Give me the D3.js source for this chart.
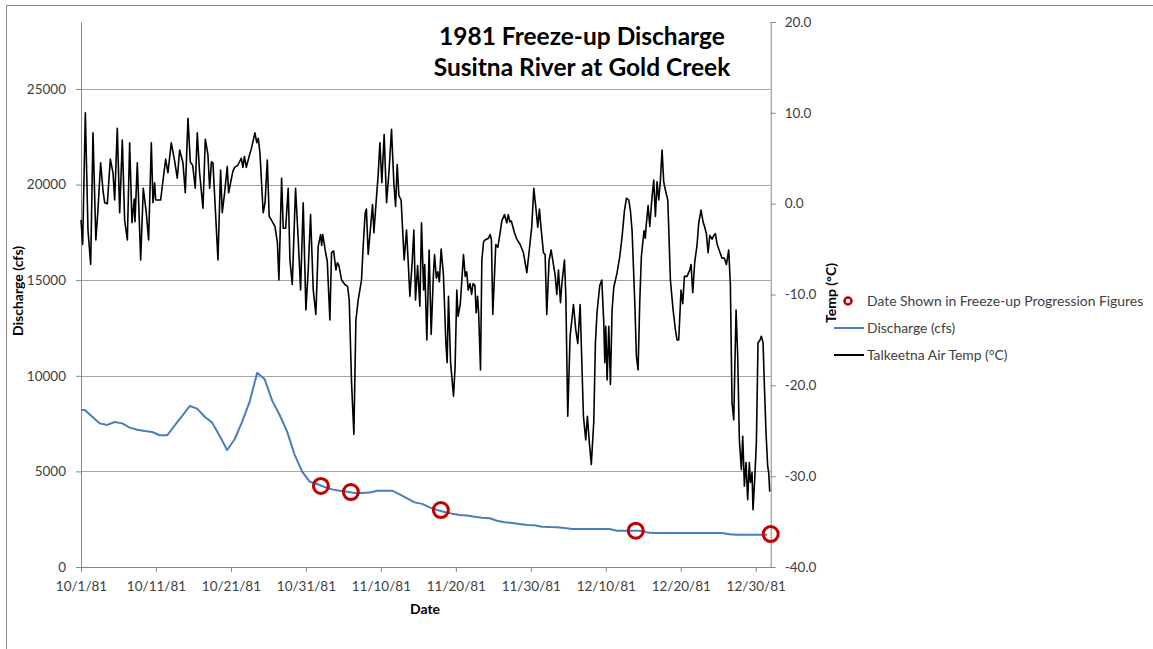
<!DOCTYPE html>
<html>
<head>
<meta charset="utf-8">
<script src="https://cdn.jsdelivr.net/npm/d3@7"></script>
<style>
  body { margin: 0; background: #fff; }
  svg { display: block; font-family: Lato, 'Open Sans', sans-serif; }
</style>
</head>
<body>
<svg id="chart" width="1153" height="649"></svg>
<script>
// discharge (cfs), one value per day, stamped at noon, starting 10/1/81
const dischargeStart = '1981-10-01';
const discharge = [
  8210, 7860, 7510, 7430, 7580, 7510, 7290, 7180, 7110, 7060,
  6890, 6890, 7410, 7900, 8420, 8280, 7860, 7550, 6850, 6120,
  6680, 7600, 8650, 10160, 9820, 8700, 7950, 7080, 5860, 4990,
  4460, 4340, 4180, 4060, 3990, 3940, 3870, 3870, 3890, 3990,
  3990, 3990, 3800, 3590, 3380, 3300, 3120, 2980, 2880, 2790,
  2720, 2690, 2630, 2580, 2550, 2420, 2340, 2300, 2250, 2200,
  2180, 2110, 2090, 2080, 2040, 1990, 1990, 1990, 1990, 1990,
  1990, 1900, 1900, 1900, 1900, 1810, 1780, 1780, 1780, 1780,
  1780, 1780, 1780, 1780, 1780, 1780, 1710, 1690, 1690, 1690,
  1690, 1690
];

// dates picked out for the freeze-up progression figures
const markerDates = ['1981-11-02', '1981-11-06', '1981-11-18', '1981-12-14', '1982-01-01'];
const markerValues = [4240, 3920, 2980, 1900, 1725];

// Talkeetna air temp: time in days after 10/1/81 00:00, value in °C
const tempDays = [
  0.00, 0.22, 0.58, 0.93, 1.29, 1.60, 1.98, 2.24, 2.62, 2.93,
  3.16, 3.51, 3.91, 4.27, 4.49, 4.84, 5.16, 5.51, 5.82, 6.18,
  6.49, 6.80, 7.10, 7.20, 7.51, 7.96, 8.31, 8.71, 9.02, 9.38,
  9.60, 9.82, 9.96, 10.62, 11.29, 11.60, 12.04, 12.49, 12.84, 13.16,
  13.60, 13.91, 14.27, 14.58, 14.90, 15.24, 15.51, 15.82, 16.27, 16.58,
  16.93, 17.16, 17.40, 17.60, 17.85, 18.27, 18.62, 18.84, 19.16, 19.51,
  19.69, 20.27, 20.49, 20.90, 21.38, 21.60, 21.80, 22.05, 22.49, 22.71,
  23.20, 23.45, 23.65, 23.87, 24.30, 24.55, 24.85, 25.10, 25.40, 25.87,
  26.20, 26.40, 26.76, 26.98, 27.30, 27.64, 27.87, 28.18, 28.62, 28.98,
  29.29, 29.64, 30.00, 30.31, 30.62, 30.98, 31.33, 31.64, 31.96, 32.10,
  32.25, 32.67, 32.85, 33.20, 33.42, 33.70, 34.00, 34.20, 34.40, 34.76,
  35.20, 35.56, 35.78, 36.09, 36.40, 36.67, 36.98, 37.42, 37.64, 37.91,
  38.07, 38.31, 38.50, 38.89, 39.07, 39.30, 39.64, 39.87, 40.13, 40.44,
  40.76, 41.10, 41.42, 41.73, 41.96, 42.18, 42.40, 42.70, 43.11, 43.42,
  43.65, 43.87, 44.18, 44.40, 44.62, 44.90, 45.20, 45.42, 45.70, 45.85,
  46.13, 46.44, 46.71, 47.00, 47.16, 47.40, 47.60, 47.80, 48.04, 48.35,
  48.67, 48.84, 49.02, 49.30, 49.69, 49.90, 50.13, 50.30, 50.60, 51.02,
  51.25, 51.45, 51.65, 51.90, 52.10, 52.30, 52.55, 52.71, 52.90, 53.05,
  53.29, 53.47, 53.70, 53.90, 54.35, 54.58, 54.75, 54.93, 55.33, 55.60,
  55.91, 56.13, 56.49, 56.80, 57.00, 57.20, 57.40, 57.82, 58.13, 58.58,
  59.02, 59.47, 59.80, 60.13, 60.40, 60.67, 60.93, 61.15, 61.38, 61.69,
  61.91, 62.13, 62.44, 62.71, 63.02, 63.24, 63.47, 63.69, 63.96, 64.13,
  64.49, 64.67, 64.93, 65.24, 65.69, 66.00, 66.27, 66.58, 67.02, 67.33,
  67.55, 67.82, 68.07, 68.40, 68.62, 68.84, 69.20, 69.47, 69.73, 69.87,
  70.00, 70.18, 70.40, 70.62, 70.84, 71.07, 71.51, 71.87, 72.18, 72.49,
  72.76, 73.07, 73.29, 73.51, 73.87, 74.09, 74.31, 74.53, 74.75, 75.10,
  75.27, 75.38, 75.65, 75.87, 76.18, 76.40, 76.62, 76.84, 77.07, 77.29,
  77.51, 77.73, 77.95, 78.27, 78.40, 78.62, 78.98, 79.29, 79.51, 79.73,
  80.04, 80.27, 80.49, 80.84, 81.20, 81.38, 81.60, 81.87, 82.18, 82.40,
  82.71, 82.98, 83.20, 83.42, 83.65, 83.87, 84.18, 84.40, 84.62, 84.84,
  85.07, 85.51, 85.82, 86.09, 86.40, 86.62, 86.84, 87.07, 87.38, 87.60,
  87.82, 88.09, 88.27, 88.49, 88.71, 88.93, 89.15, 89.29, 89.51, 89.64,
  89.87, 90.09, 90.31, 90.53, 90.75, 90.98, 91.16, 91.38, 91.60, 91.73,
  91.87
];
const tempValues = [
  -1.8, -4.5, 10.0, -2.9, -6.7, 7.8, -4.0, -1.0, 4.5, 1.5,
  0.1, 0.0, 4.9, 3.4, 0.4, 8.3, -1.0, 7.0, -1.8, -4.0,
  6.7, -2.1, 0.5, -2.0, 4.5, -6.2, 1.7, -1.0, -4.0, 6.7,
  0.1, 2.3, 0.4, 0.4, 4.9, 3.4, 6.7, 4.7, 2.8, 5.9,
  4.5, 1.2, 9.4, 4.6, 4.2, 1.7, 7.8, 3.4, -0.5, 7.1,
  5.4, 1.7, 4.6, 4.5, 0.5, -6.2, 3.7, -1.0, 1.2, 4.1,
  1.2, 3.6, 4.0, 4.2, 5.0, 4.0, 5.2, 4.0, 5.4, 6.0,
  7.8, 6.7, 7.2, 5.6, -1.0, 0.1, 4.8, -1.4, -1.8, -2.5,
  -4.3, -8.4, 2.8, -2.7, -2.7, 1.7, -6.2, -8.9, 1.7, -4.0,
  -9.5, 0.1, -11.7, -7.3, -1.2, -9.5, -12.2, -4.7, -3.4, -4.6,
  -3.4, -5.6, -6.3, -12.8, -5.4, -5.2, -7.3, -6.5, -6.8, -8.4,
  -8.9, -9.1, -10.6, -19.7, -25.4, -12.8, -10.6, -8.4, -4.7, -1.0,
  -0.6, -5.6, -3.8, -0.1, -3.2, -0.6, 3.2, 6.7, 2.3, 7.6,
  0.1, 3.7, 8.2, 2.3, -0.3, 4.3, 0.9, 0.4, -6.2, -2.9,
  -6.5, -10.2, -6.4, -2.9, -10.6, -6.8, -11.3, -2.1, -9.5, -6.7,
  -15.0, -5.1, -14.4, -8.0, -5.6, -8.2, -7.5, -8.6, -5.0, -7.9,
  -15.3, -17.5, -10.2, -17.5, -21.2, -18.0, -9.5, -12.4, -11.0, -5.6,
  -8.0, -7.5, -9.5, -8.8, -10.0, -8.8, -9.0, -12.0, -10.2, -12.2,
  -18.3, -6.2, -4.2, -4.0, -3.8, -3.4, -4.0, -12.2, -4.5, -4.8,
  -3.2, -1.9, -1.2, -2.1, -1.2, -2.0, -1.9, -3.2, -3.9, -4.5,
  -5.4, -7.6, -5.1, -2.5, 1.7, -0.4, -2.6, -0.6, -2.8, -5.4,
  -5.6, -12.2, -6.2, -5.1, -6.7, -7.8, -10.0, -7.3, -10.9, -8.9,
  -6.2, -10.1, -23.4, -14.6, -11.1, -13.9, -15.4, -11.1, -23.4, -26.0,
  -23.4, -26.4, -28.7, -24.0, -15.3, -11.9, -9.0, -8.4, -13.0, -17.5,
  -13.5, -19.4, -13.5, -19.9, -11.7, -9.2, -7.6, -5.8, -3.6, -0.8,
  0.6, 0.4, -0.8, -3.0, -10.9, -16.8, -18.3, -10.9, -5.8, -3.0,
  -3.8, -2.5, -0.2, -2.5, 0.8, 2.6, -1.4, 2.4, 0.4, 2.6,
  5.9, 2.4, 1.5, 0.4, -2.7, -8.4, -11.7, -13.9, -15.0, -15.0,
  -9.5, -11.0, -8.0, -8.0, -7.3, -6.7, -9.8, -6.4, -4.5, -2.1,
  -0.7, -2.0, -2.6, -3.3, -5.4, -3.5, -3.9, -3.5, -3.3, -4.4,
  -5.0, -6.0, -6.0, -6.7, -5.1, -8.9, -21.9, -23.8, -11.7, -16.8,
  -26.0, -29.3, -25.6, -31.1, -28.5, -32.6, -28.5, -30.7, -29.6, -33.7,
  -30.3, -26.3, -15.3, -15.1, -14.6, -15.3, -20.1, -25.3, -28.9, -29.6,
  -31.7
];

const dateTicks = ['1981-10-01', '1981-10-11', '1981-10-21', '1981-10-31', '1981-11-10',
  '1981-11-20', '1981-11-30', '1981-12-10', '1981-12-20', '1981-12-30'];
const dischargeTicks = [0, 5000, 10000, 15000, 20000, 25000];
const tempTicks = [-40, -30, -20, -10, 0, 10, 20];

const legendItems = ['Date Shown in Freeze-up Progression Figures', 'Discharge (cfs)', 'Talkeetna Air Temp (°C)'];

const svg = d3.select('#chart');
const parse = d3.utcParse('%Y-%m-%d');
const DAY = 86400000;

const plot = { left: 81, right: 770.7, top: 22, bottom: 567 };
const grey = '#868686';
const textColor = '#404040';

const x = d3.scaleUtc()
  .domain([parse('1981-10-01'), parse('1982-01-01')])
  .range([plot.left, plot.right]);

const yQ = d3.scaleLinear()
  .domain([0, 28500])
  .range([plot.bottom, plot.top]);

const yT = d3.scaleLinear()
  .domain([-40, 20])
  .range([plot.bottom, plot.top]);

// outer chart frame
svg.append('rect')
  .attr('x', 6.5)
  .attr('y', 5.5)
  .attr('width', 1200)
  .attr('height', 700)
  .attr('fill', 'none')
  .attr('stroke', '#8c8c8c')
  .attr('stroke-width', 1);

// horizontal gridlines from the discharge axis
svg.append('g')
  .selectAll('line')
  .data(dischargeTicks.filter(d => d > 0))
  .enter()
  .append('line')
  .attr('x1', plot.left)
  .attr('x2', plot.right)
  .attr('y1', d => Math.round(yQ(d)) + 0.5)
  .attr('y2', d => Math.round(yQ(d)) + 0.5)
  .attr('stroke', '#a6a6a6')
  .attr('stroke-width', 1);

function styleAxis(g) {
  g.select('.domain').attr('stroke', grey);
  g.selectAll('.tick line').attr('stroke', grey);
  g.selectAll('.tick text')
    .attr('fill', textColor)
    .style('font-family', 'Lato, sans-serif')
    .style('font-size', '13.5px');
}

// x axis
svg.append('g')
  .attr('transform', `translate(0,${plot.bottom})`)
  .call(d3.axisBottom(x)
    .tickValues(dateTicks.map(parse))
    .tickFormat(d3.utcFormat('%-m/%-d/%y'))
    .tickSize(5)
    .tickSizeOuter(0)
    .tickPadding(9))
  .call(styleAxis);

// left axis
svg.append('g')
  .attr('transform', `translate(${plot.left},0)`)
  .call(d3.axisLeft(yQ)
    .tickValues(dischargeTicks)
    .tickFormat(d3.format('d'))
    .tickSize(5)
    .tickSizeOuter(0)
    .tickPadding(10))
  .call(styleAxis);

// right axis
svg.append('g')
  .attr('transform', `translate(${plot.right},0)`)
  .call(d3.axisRight(yT)
    .tickValues(tempTicks)
    .tickFormat(d3.format('.1f'))
    .tickSize(5)
    .tickSizeOuter(0)
    .tickPadding(9))
  .call(styleAxis);

// plain hyphen for negatives, as in the original
svg.selectAll('.tick text').text(function () { return this.textContent.replace('\u2212', '-'); });

// temperature line
const t0 = parse('1981-10-01').getTime();
const tempLine = d3.line()
  .x(d => x(new Date(t0 + d[0] * DAY)))
  .y(d => yT(d[1]));

svg.append('path')
  .datum(tempDays.map((t, i) => [t, tempValues[i]]))
  .attr('fill', 'none')
  .attr('stroke', '#000')
  .attr('stroke-width', 1.6)
  .attr('stroke-linejoin', 'round')
  .attr('d', tempLine);

// discharge line (first value also held back to the start of the axis)
const qStart = parse(dischargeStart).getTime();
const qPoints = [[qStart, discharge[0]]]
  .concat(discharge.map((d, i) => [qStart + (i + 0.5) * DAY, d]));
const qLine = d3.line()
  .x(d => x(new Date(d[0])))
  .y(d => yQ(d[1]));

svg.append('path')
  .datum(qPoints)
  .attr('fill', 'none')
  .attr('stroke', '#4a7ebb')
  .attr('stroke-width', 2)
  .attr('stroke-linejoin', 'round')
  .attr('d', qLine);

// freeze-up progression markers
svg.append('g')
  .selectAll('circle')
  .data(markerDates)
  .enter()
  .append('circle')
  .attr('cx', d => x(parse(d)))
  .attr('cy', (d, i) => yQ(markerValues[i]))
  .attr('r', 7.5)
  .attr('fill', 'none')
  .attr('stroke', '#c00000')
  .attr('stroke-width', 3);

// title
const title = svg.append('text')
  .attr('text-anchor', 'middle')
  .attr('fill', '#000')
  .style('font-weight', 'bold')
  .style('font-size', '24.5px');
title.append('tspan').attr('x', 582).attr('y', 45).text('1981 Freeze-up Discharge');
title.append('tspan').attr('x', 582).attr('y', 76).text('Susitna River at Gold Creek');

// axis titles
svg.append('text')
  .attr('transform', 'translate(23,291) rotate(-90)')
  .attr('text-anchor', 'middle')
  .style('font-weight', 'bold')
  .style('font-size', '14px')
  .text('Discharge (cfs)');

svg.append('text')
  .attr('transform', 'translate(836,293) rotate(-90)')
  .attr('text-anchor', 'middle')
  .style('font-weight', 'bold')
  .style('font-size', '14px')
  .text('Temp (°C)');

svg.append('text')
  .attr('x', 425)
  .attr('y', 614)
  .attr('text-anchor', 'middle')
  .style('font-weight', 'bold')
  .style('font-size', '14px')
  .text('Date');

// legend
const legend = svg.append('g')
  .attr('transform', 'translate(834,301)');

legend.selectAll('text')
  .data(legendItems)
  .enter()
  .append('text')
  .attr('x', 33)
  .attr('y', (d, i) => i * 27)
  .attr('dy', '0.35em')
  .attr('fill', textColor)
  .style('font-size', '13.9px')
  .text(d => d);

legend.append('circle')
  .attr('cx', 14)
  .attr('cy', 0)
  .attr('r', 3.5)
  .attr('fill', 'none')
  .attr('stroke', '#c00000')
  .attr('stroke-width', 2.5);

legend.append('line')
  .attr('x1', 0).attr('x2', 30)
  .attr('y1', 27).attr('y2', 27)
  .attr('stroke', '#4a7ebb')
  .attr('stroke-width', 2);

legend.append('line')
  .attr('x1', 0).attr('x2', 30)
  .attr('y1', 54).attr('y2', 54)
  .attr('stroke', '#000')
  .attr('stroke-width', 2);
</script>
</body>
</html>
